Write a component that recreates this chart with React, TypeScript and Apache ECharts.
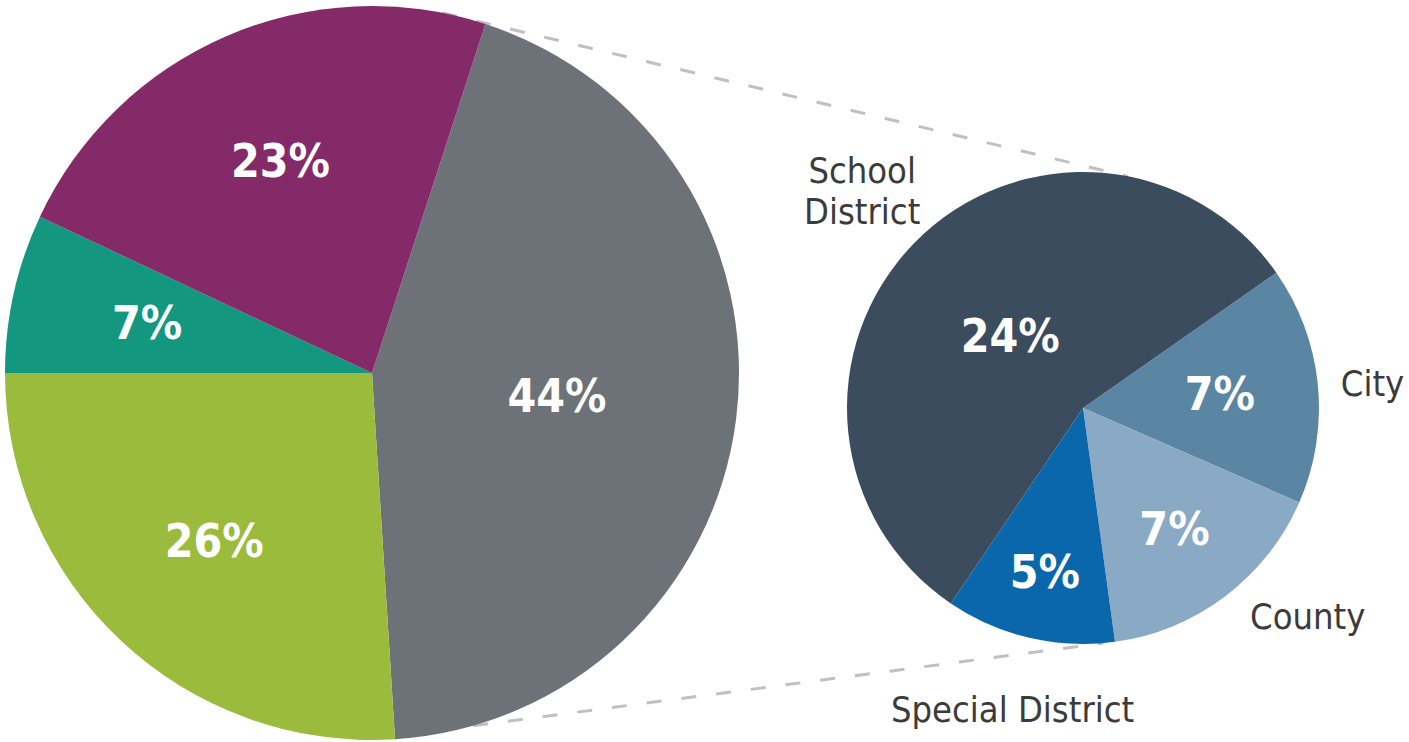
import React, { useEffect, useRef } from "react";
import * as echarts from "echarts";

// ---- data ----
const bigCategories = ["Segment A", "Segment B", "Segment C", "Segment D"];
const bigValues = [44, 26, 7, 23];
const bigColors = ["#6d7279", "#9bbb3c", "#13977e", "#842a69"];

const smallCategories = ["City", "County", "Special District", "School District"];
const smallLabelText = ["City", "County", "Special District", "School\nDistrict"];
const smallValues = [7, 7, 5, 24];
const smallColors = ["#5b86a3", "#8aa9c4", "#0a67ab", "#3c4c5f"];

// ---- layout ----
const W = 1409;
const H = 742;
const BIG_C = [372, 373];
const BIG_R = 367;
const BIG_START = 72;
const SMALL_C = [1083, 408];
const SMALL_R = 236;
const SMALL_START = 35;

const FONT = "'DejaVu Sans Condensed', 'Liberation Sans Narrow', sans-serif";
const TRANSPARENT = "rgba(0,0,0,0)";

const pctLabel = {
  color: "#ffffff",
  fontFamily: FONT,
  fontWeight: "bold",
  fontSize: 46,
  formatter: "{c}%",
};
const nameLabel = {
  color: "#3b3b3b",
  fontFamily: FONT,
  fontWeight: "normal",
  fontSize: 36,
  lineHeight: 41,
};

function overlay(
  center: number[],
  radius: number,
  startAngle: number,
  names: string[],
  values: number[],
  show: number[],
  label: any,
  lineLens?: number[]
) {
  return {
    type: "pie",
    center,
    radius,
    startAngle,
    clockwise: true,
    silent: true,
    avoidLabelOverlap: false,
    emphasis: { disabled: true },
    label: { show: true, ...label },
    labelLine: { show: false },
    data: values.map((v, i) => ({
      value: v,
      name: names[i],
      itemStyle: { color: TRANSPARENT, borderWidth: 0 },
      label: { show: show.includes(i) },
      labelLine: lineLens ? { show: false, length: lineLens[i], length2: 4 } : { show: false },
    })),
  };
}

const pt = (c: number[], r: number, deg: number) => {
  const a = (deg * Math.PI) / 180;
  return [c[0] + r * Math.sin(a), c[1] - r * Math.cos(a)];
};

export default function App() {
  const ref = useRef<HTMLDivElement>(null);
  useEffect(() => {
    document.body.style.margin = "0";
    if (!ref.current) return;
    const chart = echarts.init(ref.current, undefined, { renderer: "svg" });

    const topA = pt(BIG_C, BIG_R, 11);
    const topB = pt(SMALL_C, SMALL_R, 11);
    const botA = pt(BIG_C, BIG_R, 164);
    const botB = pt(SMALL_C, SMALL_R, 175);
    const dash = { stroke: "#c0c0c0", lineWidth: 3, lineDash: [15, 20] };

    const series: any[] = [
      {
        type: "pie",
        center: BIG_C,
        radius: BIG_R,
        startAngle: BIG_START,
        clockwise: true,
        silent: true,
        avoidLabelOverlap: false,
        emphasis: { disabled: true },
        label: { show: true, position: "inside", ...pctLabel },
        labelLine: { show: false },
        data: bigValues.map((v, i) => ({
          value: v,
          name: bigCategories[i],
          itemStyle: { color: bigColors[i] },
          label: { show: i === 0 },
        })),
      },
      overlay(BIG_C, BIG_R * 1.24, BIG_START, bigCategories, bigValues, [1, 2, 3], {
        position: "inside",
        ...pctLabel,
      }),
      {
        type: "pie",
        center: SMALL_C,
        radius: SMALL_R,
        startAngle: SMALL_START,
        clockwise: true,
        silent: true,
        emphasis: { disabled: true },
        label: { show: false },
        labelLine: { show: false },
        data: smallValues.map((v, i) => ({
          value: v,
          name: smallCategories[i],
          itemStyle: { color: smallColors[i] },
        })),
      },
    ];

    const pctFactors = [1.14, 1.26, 1.4, 0.84];
    pctFactors.forEach((f, i) => {
      series.push(
        overlay(SMALL_C, SMALL_R * f, SMALL_START, smallCategories, smallValues, [i], {
          position: "inside",
          ...pctLabel,
        })
      );
    });

    series.push(
      overlay(SMALL_C, SMALL_R * 2.6, SMALL_START, smallCategories, smallValues, [2, 3], {
        position: "inside",
        ...nameLabel,
        formatter: (p: any) => smallLabelText[p.dataIndex],
      })
    );
    series.push(
      overlay(
        SMALL_C,
        SMALL_R,
        SMALL_START,
        smallCategories,
        smallValues,
        [0, 1],
        {
          position: "outside",
          ...nameLabel,
          formatter: (p: any) => smallLabelText[p.dataIndex],
        },
        [14, 26, 10, 10]
      )
    );

    chart.setOption({
      animation: false,
      backgroundColor: "#ffffff",
      series,
      graphic: [
        {
          type: "line",
          silent: true,
          shape: { x1: topA[0], y1: topA[1], x2: topB[0], y2: topB[1] },
          style: dash,
        },
        {
          type: "line",
          silent: true,
          shape: { x1: botA[0], y1: botA[1], x2: botB[0], y2: botB[1] },
          style: dash,
        },
      ],
    });
    return () => chart.dispose();
  }, []);
  return <div ref={ref} style={{ width: W, height: H }} />;
}
